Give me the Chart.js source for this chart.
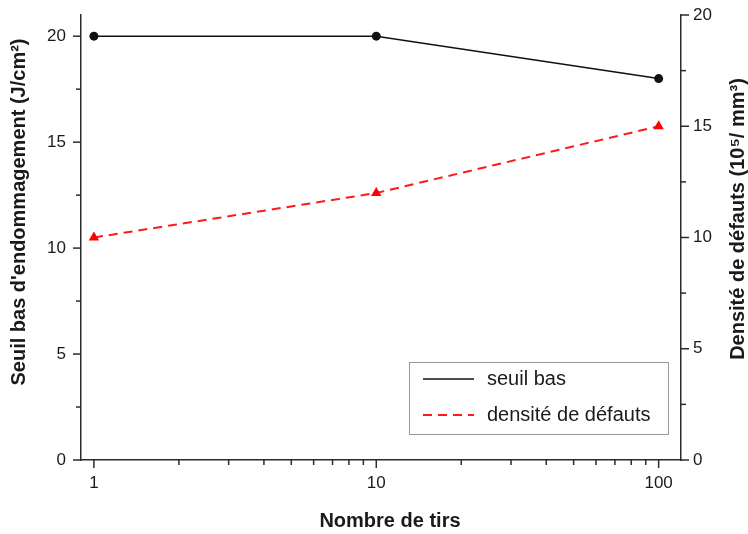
<!DOCTYPE html>
<html>
<head>
<meta charset="utf-8">
<script src="https://cdn.jsdelivr.net/npm/chart.js@4.4.1/dist/chart.umd.min.js"></script>
<style>
  html, body { margin: 0; padding: 0; background: #fff; }
  #wrap { width: 748px; height: 534px; }
</style>
</head>
<body>
<div id="wrap"><canvas id="chart" width="748" height="534"></canvas></div>
<script>
// values
const shots = [1, 10, 100];
const seuilBas = [20, 20, 18];        // J/cm², left axis
const densiteDefauts = [10, 12, 15];  // 10^5 / mm³, right axis

const seriesLabels = ["seuil bas", "densité de défauts"];

const xMajorTicks = [1, 10, 100];
const xMinorTicks = [2, 3, 4, 5, 6, 7, 8, 9, 20, 30, 40, 50, 60, 70, 80, 90];
const yMajorTicks = [0, 5, 10, 15, 20];
const yMinorTicks = [2.5, 7.5, 12.5, 17.5];

const xTitle = "Nombre de tirs";
const yTitle = "Seuil bas d'endommagement (J/cm²)";
const y2Title = "Densité de défauts (10⁵/ mm³)";

const axisColor = "#2b2b2b";
const textColor = "#1a1a1a";
const fontFamily = "Arial, 'Liberation Sans', sans-serif";
const tickFont = { family: fontFamily, size: 17 };

// tick marks: majors longer than minors, all pointing outwards
const tickMarks = {
  id: "tickMarks",
  afterDraw(chart) {
    const ctx = chart.ctx;
    const { x, y, y2 } = chart.scales;
    ctx.save();
    ctx.strokeStyle = axisColor;
    ctx.lineWidth = 1.5;
    const mark = (x0, y0, x1, y1) => {
      ctx.beginPath();
      ctx.moveTo(x0, y0);
      ctx.lineTo(x1, y1);
      ctx.stroke();
    };
    xMajorTicks.forEach(v => { const p = x.getPixelForValue(v); mark(p, x.top, p, x.top + 8); });
    xMinorTicks.forEach(v => { const p = x.getPixelForValue(v); mark(p, x.top, p, x.top + 5); });
    yMajorTicks.forEach(v => {
      const p = y.getPixelForValue(v);
      mark(y.right, p, y.right - 8, p);
      const q = y2.getPixelForValue(v);
      mark(y2.left, q, y2.left + 8, q);
    });
    yMinorTicks.forEach(v => {
      const p = y.getPixelForValue(v);
      mark(y.right, p, y.right - 5, p);
      const q = y2.getPixelForValue(v);
      mark(y2.left, q, y2.left + 5, q);
    });
    ctx.restore();
  }
};

// axis titles (both vertical ones read bottom to top)
const axisTitles = {
  id: "axisTitles",
  afterDraw(chart) {
    const ctx = chart.ctx;
    const area = chart.chartArea;
    ctx.save();
    ctx.fillStyle = textColor;
    ctx.font = "bold 20px " + fontFamily;
    ctx.textAlign = "center";
    ctx.textBaseline = "middle";
    ctx.fillText(xTitle, area.left + (area.right - area.left) / 2 + 9, 521);

    ctx.save();
    ctx.translate(19, 212);
    ctx.rotate(-Math.PI / 2);
    ctx.fillText(yTitle, 0, 0);
    ctx.restore();

    ctx.save();
    ctx.translate(738, 219);
    ctx.rotate(-Math.PI / 2);
    ctx.fillText(y2Title, 0, 0);
    ctx.restore();
    ctx.restore();
  }
};

// boxed legend inside the lower right corner of the plot
const boxLegend = {
  id: "boxLegend",
  afterDraw(chart) {
    const ctx = chart.ctx;
    const area = chart.chartArea;
    const bx = area.right - 272, by = area.bottom - 98, bw = 259, bh = 72;
    ctx.save();
    ctx.strokeStyle = "#9a9a9a";
    ctx.lineWidth = 1;
    ctx.strokeRect(bx + 0.5, by + 0.5, bw, bh);
    ctx.font = "20px " + fontFamily;
    ctx.textBaseline = "middle";
    chart.data.datasets.forEach((ds, i) => {
      const ly = by + 17 + i * 36;
      ctx.strokeStyle = ds.borderColor;
      ctx.lineWidth = ds.borderWidth;
      ctx.setLineDash(ds.borderDash || []);
      ctx.beginPath();
      ctx.moveTo(bx + 14, ly);
      ctx.lineTo(bx + 65, ly);
      ctx.stroke();
      ctx.setLineDash([]);
      ctx.fillStyle = textColor;
      ctx.fillText(ds.label, bx + 78, ly);
    });
    ctx.restore();
  }
};

// fixed axis box sizes, no extra label padding
const fitY = w => s => { s.width = w; s.paddingTop = 0; s.paddingBottom = 0; };

new Chart(document.getElementById("chart"), {
  type: "line",
  data: {
    datasets: [
      {
        label: seriesLabels[0],
        data: shots.map((s, i) => ({ x: s, y: seuilBas[i] })),
        yAxisID: "y",
        borderColor: "#111111",
        backgroundColor: "#111111",
        borderWidth: 1.6,
        pointStyle: "circle",
        pointRadius: 4.5,
        pointBorderWidth: 0,
        tension: 0
      },
      {
        label: seriesLabels[1],
        data: shots.map((s, i) => ({ x: s, y: densiteDefauts[i] })),
        yAxisID: "y2",
        borderColor: "#ff1a1a",
        backgroundColor: "#ff0000",
        borderWidth: 2,
        borderDash: [9, 6],
        pointStyle: "triangle",
        pointRadius: 6,
        pointBorderWidth: 0,
        tension: 0
      }
    ]
  },
  options: {
    responsive: false,
    animation: false,
    layout: { padding: { top: 15, left: 0, right: 0, bottom: 0 } },
    plugins: {
      legend: { display: false },
      tooltip: { enabled: false }
    },
    scales: {
      x: {
        type: "logarithmic",
        min: 0.9,
        max: 120,
        afterBuildTicks: s => { s.ticks = xMajorTicks.map(v => ({ value: v })); },
        afterFit: s => { s.height = 74; s.paddingLeft = 0; s.paddingRight = 0; },
        ticks: { callback: v => String(v), font: tickFont, color: textColor, padding: 13, maxRotation: 0, autoSkip: false },
        grid: { display: false, drawTicks: false },
        border: { display: true, color: axisColor, width: 1.5 }
      },
      y: {
        type: "linear",
        position: "left",
        min: 0,
        max: 21,
        afterBuildTicks: s => { s.ticks = yMajorTicks.map(v => ({ value: v })); },
        afterFit: fitY(81),
        ticks: { font: tickFont, color: textColor, padding: 15 },
        grid: { display: false, drawTicks: false },
        border: { display: true, color: axisColor, width: 1.5 }
      },
      y2: {
        type: "linear",
        position: "right",
        min: 0,
        max: 20,
        afterBuildTicks: s => { s.ticks = yMajorTicks.map(v => ({ value: v })); },
        afterFit: fitY(67),
        ticks: { font: tickFont, color: textColor, padding: 12 },
        grid: { display: false, drawTicks: false },
        border: { display: true, color: axisColor, width: 1.5 }
      }
    }
  },
  plugins: [tickMarks, axisTitles, boxLegend]
});
</script>
</body>
</html>
